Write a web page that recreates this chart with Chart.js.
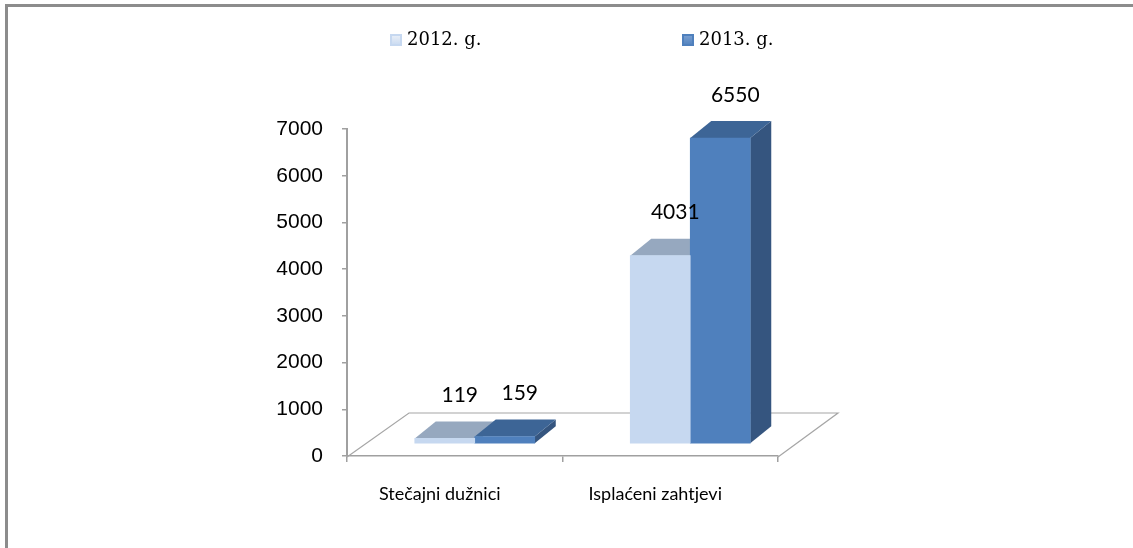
<!DOCTYPE html>
<html>
<head>
<meta charset="utf-8">
<script src="https://cdn.jsdelivr.net/npm/chart.js@4.4.0/dist/chart.umd.min.js"></script>
<style>
    html, body { margin: 0; padding: 0; background: #fff; }
    #wrap { width: 1133px; height: 548px; position: relative; }
</style>
</head>
<body>
<div id="wrap"><canvas id="chart" width="1133" height="548"></canvas></div>
<script>
// --- données ---
const categories = ['Stečajni dužnici', 'Isplaćeni zahtjevi'];
const seriesLabels = ['2012. g.', '2013. g.'];
const values2012 = [119, 4031];
const values2013 = [159, 6550];
const yTicks = [0, 1000, 2000, 3000, 4000, 5000, 6000, 7000];

// --- styles ---
const faceColors = [
    { front: '#c6d8f0', top: '#96a8bf', side: '#8ea3bd', legendHi: '#eef2f8' },
    { front: '#4f80bd', top: '#3d6596', side: '#35557f', legendHi: '#7fa3d3' }
];
const DEPTH_X = 21, DEPTH_Y = -17;     // profondeur des barres
const SHIFT_X = 20, SHIFT_Y = -12;     // barres placées dans la profondeur du sol
const FLOOR_X = 62, FLOOR_Y = -44;     // bord arrière du sol

// cadre + fond
const framePlugin = {
    id: 'frame',
    beforeDraw(chart) {
        const ctx = chart.ctx;
        ctx.save();
        ctx.fillStyle = '#fff';
        ctx.fillRect(0, 0, chart.width, chart.height);
        ctx.fillStyle = '#8c8c8c';
        ctx.fillRect(5, 4, chart.width - 5, 3);
        ctx.fillRect(5, 4, 3, chart.height - 4);
        ctx.restore();
    }
};

// sol 3D, faces latérales et supérieures des barres, étiquettes
const depthPlugin = {
    id: 'depth3d',
    beforeDatasetsDraw(chart) {
        const ctx = chart.ctx;
        const a = chart.chartArea;
        ctx.save();
        ctx.strokeStyle = '#a6a6a6';
        ctx.lineWidth = 1.2;
        ctx.beginPath();
        ctx.moveTo(a.left, a.bottom + 1);
        ctx.lineTo(a.left + FLOOR_X, a.bottom + 1 + FLOOR_Y);
        ctx.lineTo(a.right + FLOOR_X - 2, a.bottom + 1 + FLOOR_Y);
        ctx.lineTo(a.right, a.bottom + 1);
        ctx.stroke();
        ctx.restore();

        ctx.save();
        ctx.translate(SHIFT_X, SHIFT_Y);
        chart.data.datasets.forEach((ds, i) => {
            const meta = chart.getDatasetMeta(i);
            const c = faceColors[i];
            meta.data.forEach(bar => {
                const l = bar.x - bar.width / 2, r = bar.x + bar.width / 2;
                const t = bar.y, b = bar.base;
                // ombre
                ctx.save();
                ctx.shadowColor = 'rgba(0,0,0,0.35)';
                ctx.shadowBlur = 10;
                ctx.shadowOffsetX = 6;
                ctx.shadowOffsetY = 2;
                ctx.fillStyle = 'rgba(0,0,0,0.001)';
                ctx.fillRect(l + 4, b - 4, r - l + DEPTH_X - 4, 4);
                ctx.restore();
                // côté
                ctx.fillStyle = c.side;
                ctx.beginPath();
                ctx.moveTo(r, t);
                ctx.lineTo(r + DEPTH_X, t + DEPTH_Y);
                ctx.lineTo(r + DEPTH_X, b + DEPTH_Y);
                ctx.lineTo(r, b);
                ctx.closePath();
                ctx.fill();
                // dessus
                ctx.fillStyle = c.top;
                ctx.beginPath();
                ctx.moveTo(l, t);
                ctx.lineTo(r, t);
                ctx.lineTo(r + DEPTH_X, t + DEPTH_Y);
                ctx.lineTo(l + DEPTH_X, t + DEPTH_Y);
                ctx.closePath();
                ctx.fill();
            });
        });
    },
    afterDatasetsDraw(chart) {
        const ctx = chart.ctx;
        ctx.font = '21px Lato';
        ctx.fillStyle = '#000';
        ctx.textAlign = 'center';
        ctx.textBaseline = 'middle';
        chart.data.datasets.forEach((ds, i) => {
            chart.getDatasetMeta(i).data.forEach((bar, j) => {
                ctx.fillText(String(ds.data[j]), bar.x + 15, bar.y - 43);
            });
        });
        ctx.restore();
    }
};

// légende dessinée à la main (espacement large)
const legendPlugin = {
    id: 'wideLegend',
    afterDraw(chart) {
        const ctx = chart.ctx;
        const xs = [390, 682];
        ctx.save();
        ctx.font = '18px "DejaVu Serif"';
        ctx.textBaseline = 'middle';
        ctx.textAlign = 'left';
        chart.data.datasets.forEach((ds, i) => {
            const x = xs[i], y = 34;
            const g = ctx.createLinearGradient(0, y, 0, y + 12);
            g.addColorStop(0, faceColors[i].legendHi);
            g.addColorStop(1, ds.backgroundColor);
            ctx.fillStyle = ds.backgroundColor;
            ctx.fillRect(x, y, 12, 12);
            ctx.fillStyle = g;
            ctx.fillRect(x + 2, y + 2, 8, 8);
            ctx.fillStyle = '#000';
            ctx.fillText(ds.label, x + 17, 40);
        });
        ctx.restore();
    }
};

new Chart(document.getElementById('chart'), {
    type: 'bar',
    data: {
        labels: categories,
        datasets: [
            { label: seriesLabels[0], data: values2012, backgroundColor: faceColors[0].front },
            { label: seriesLabels[1], data: values2013, backgroundColor: faceColors[1].front }
        ]
    },
    options: {
        responsive: false,
        animation: false,
        devicePixelRatio: 1,
        layout: { padding: { left: 247, right: 355, top: 129, bottom: 32 } },
        datasets: { bar: { barThickness: 60, borderWidth: 0, clip: false } },
        plugins: {
            legend: { display: false },
            tooltip: { enabled: false }
        },
        scales: {
            x: {
                grid: { drawOnChartArea: false, tickLength: 6, color: '#a0a0a0', lineWidth: 1.5 },
                border: { color: '#a0a0a0', width: 1.5 },
                ticks: { font: { family: 'Lato', size: 18 }, color: '#000', padding: 21, labelOffset: -15 },
                afterFit(scale) { scale.height = 60; }
            },
            y: {
                min: 0,
                max: 7000,
                afterBuildTicks(scale) { scale.ticks = yTicks.map(v => ({ value: v })); },
                grid: { drawOnChartArea: false, tickLength: 5, color: '#a0a0a0', lineWidth: 1.5 },
                border: { color: '#a0a0a0', width: 2 },
                ticks: {
                    font: { family: '"Liberation Sans"', size: 21 },
                    color: '#000',
                    padding: 19,
                    callback: v => String(v)
                },
                afterFit(scale) { scale.width = 100; }
            }
        }
    },
    plugins: [framePlugin, depthPlugin, legendPlugin]
});
</script>
</body>
</html>
